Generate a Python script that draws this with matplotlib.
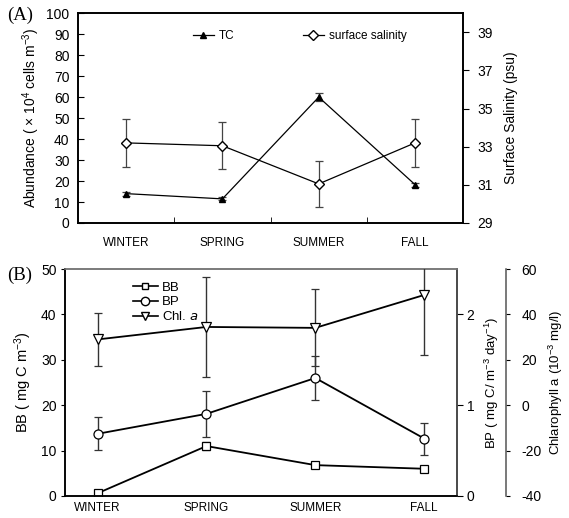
import matplotlib
matplotlib.use('Agg')
import matplotlib.pyplot as plt
import numpy as np
from matplotlib.ticker import FixedLocator
from matplotlib.lines import Line2D

plt.rcParams['font.family'] = ['Liberation Sans', 'DejaVu Sans']
plt.rcParams['mathtext.default'] = 'regular'
plt.rcParams['axes.unicode_minus'] = False

seasons = ['WINTER', 'SPRING', 'SUMMER', 'FALL']

# (A) total counts and surface salinity
tc = [14.0, 11.5, 60.0, 18.3]
tc_err = [1.0, 0.7, 1.8, 1.0]
sal = [33.2, 33.05, 31.05, 33.2]
sal_err = [1.25, 1.22, 1.19, 1.27]

# (B) bacterial biomass, production, chlorophyll a
bb = [0.6, 11.0, 6.8, 6.0]
bb_err = [0.2, 0.8, 0.3, 0.3]
bp = [0.685, 0.905, 1.30, 0.633]
bp_err = [0.18, 0.25, 0.245, 0.176]
chl = [29.0, 34.5, 34.1, 48.6]
chl_err = [11.6, 21.9, 17.0, 26.4]

fig = plt.figure(figsize=(5.69, 5.18), dpi=100)

# ---------------- panel A ----------------
axA = fig.add_axes([0.137, 0.5695, 0.677, 0.405])
xa = np.arange(len(seasons)) + 0.5
axA.errorbar(xa, tc, yerr=tc_err, color='k', ecolor='#444444', elinewidth=0.9,
             capsize=3, capthick=0.9, lw=0.9, marker='^', ms=5, mfc='k', mec='k')
axA.set_xlim(0, 4)
axA.set_ylim(0, 100)
axA.set_yticks(np.arange(0, 101, 10))
axA.set_xticks(xa)
axA.set_xticklabels(seasons, fontsize=8.5)
axA.xaxis.set_minor_locator(FixedLocator([1, 2, 3]))
axA.tick_params(axis='x', which='major', length=0, pad=10)
axA.tick_params(axis='x', which='minor', direction='in', length=4)
axA.tick_params(axis='y', direction='in', length=4, labelsize=10, pad=6)
axA.set_ylabel(r'Abundance ( $\times$ 10$^4$ cells m$^{-3}$)', fontsize=10, labelpad=3)

axA2 = axA.twinx()
axA2.errorbar(xa, sal, yerr=sal_err, color='k', ecolor='#444444', elinewidth=0.9,
              capsize=3, capthick=0.9, lw=0.9, marker='D', ms=5.5, mfc='white', mec='k')
axA2.set_ylim(29, 40)
axA2.set_yticks(np.arange(29, 40, 2))
axA2.tick_params(axis='y', direction='out', length=4, labelsize=10, pad=6)
axA2.set_ylabel('Surface Salinity (psu)', fontsize=10, labelpad=8)

handles_a = [Line2D([], [], color='k', lw=0.9, marker='^', ms=5, mfc='k', mec='k'),
             Line2D([], [], color='k', lw=0.9, marker='D', ms=5, mfc='white', mec='k')]
axA.legend(handles_a, ['TC', 'surface salinity'], loc='upper left',
           bbox_to_anchor=(0.27, 0.97), ncol=2, frameon=False, fontsize=8.5,
           handlelength=1.8, columnspacing=5.8, handletextpad=0.4)
for ax in (axA, axA2):
    for s in ax.spines.values():
        s.set_linewidth(1.2)

fig.text(0.012, 0.970, '(A)', family='Liberation Serif', fontsize=13.5, va='center')

# ---------------- panel B ----------------
axB = fig.add_axes([0.114, 0.0425, 0.689, 0.438])
xb = np.arange(1, len(seasons) + 1)
axB.errorbar(xb, bb, yerr=bb_err, color='k', ecolor='#333333', elinewidth=1.0,
             capsize=3, capthick=1.0, lw=1.3, marker='s', ms=5.5, mfc='white',
             mec='k', mew=0.9)
axB.set_xlim(0.7, 4.3)
axB.set_ylim(0, 50)
axB.set_yticks(np.arange(0, 51, 10))
axB.set_xticks(xb)
axB.set_xticklabels(seasons, fontsize=8.5)
axB.tick_params(axis='x', length=0, pad=4)
axB.tick_params(axis='y', direction='out', length=3, labelsize=10, pad=3)
axB.set_ylabel(r'BB ( mg C m$^{-3}$)', fontsize=10.5, labelpad=5)

axB2 = axB.twinx()
axB2.errorbar(xb, bp, yerr=bp_err, color='k', ecolor='#333333', elinewidth=1.0,
              capsize=3, capthick=1.0, lw=1.3, marker='o', ms=6.5, mfc='white',
              mec='k', mew=0.9)
axB2.set_ylim(0, 2.5)
axB2.set_yticks([0, 1, 2])
axB2.tick_params(axis='y', direction='out', length=4, labelsize=10, pad=3)
axB2.set_ylabel(r'BP ( mg C/ m$^{-3}$ day$^{-1}$)', fontsize=9.5, labelpad=6)

axB3 = axB.twinx()
axB3.spines['right'].set_position(('axes', 1.125))
for s in ('top', 'left', 'bottom'):
    axB3.spines[s].set_visible(False)
axB3.errorbar(xb, chl, yerr=chl_err, color='k', ecolor='#333333', elinewidth=1.0,
              capsize=3, capthick=1.0, lw=1.3, marker='v', ms=6.5, mfc='white',
              mec='k', mew=0.9)
axB3.set_ylim(-40, 60)
axB3.set_yticks(np.arange(-40, 61, 20))
axB3.tick_params(axis='y', direction='out', length=3, labelsize=10, pad=8)
axB3.set_ylabel(r'Chlarophyll a (10$^{-3}$ mg/l)', fontsize=9.5, labelpad=4)

for ax in (axB, axB2, axB3):
    for s in ax.spines.values():
        s.set_linewidth(1.1)
axB.spines['top'].set_color('#777777')
axB2.spines['top'].set_color('#777777')
axB2.spines['right'].set_color('#555555')
axB3.spines['right'].set_color('#555555')

handles_b = [Line2D([], [], color='k', lw=1.2, marker='s', ms=5, mfc='white', mec='k'),
             Line2D([], [], color='k', lw=1.2, marker='o', ms=6, mfc='white', mec='k'),
             Line2D([], [], color='k', lw=1.2, marker='v', ms=6, mfc='white', mec='k')]
axB3.legend(handles_b, ['BB', 'BP', 'Chl. $\\mathit{a}$'], loc='upper left',
            bbox_to_anchor=(0.15, 0.985), frameon=False, fontsize=9.5,
            handlelength=1.9, handletextpad=0.3, labelspacing=0.15, borderpad=0.2)

fig.text(0.012, 0.469, '(B)', family='Liberation Serif', fontsize=13.5, va='center')

fig.savefig('out.png', dpi=100)
